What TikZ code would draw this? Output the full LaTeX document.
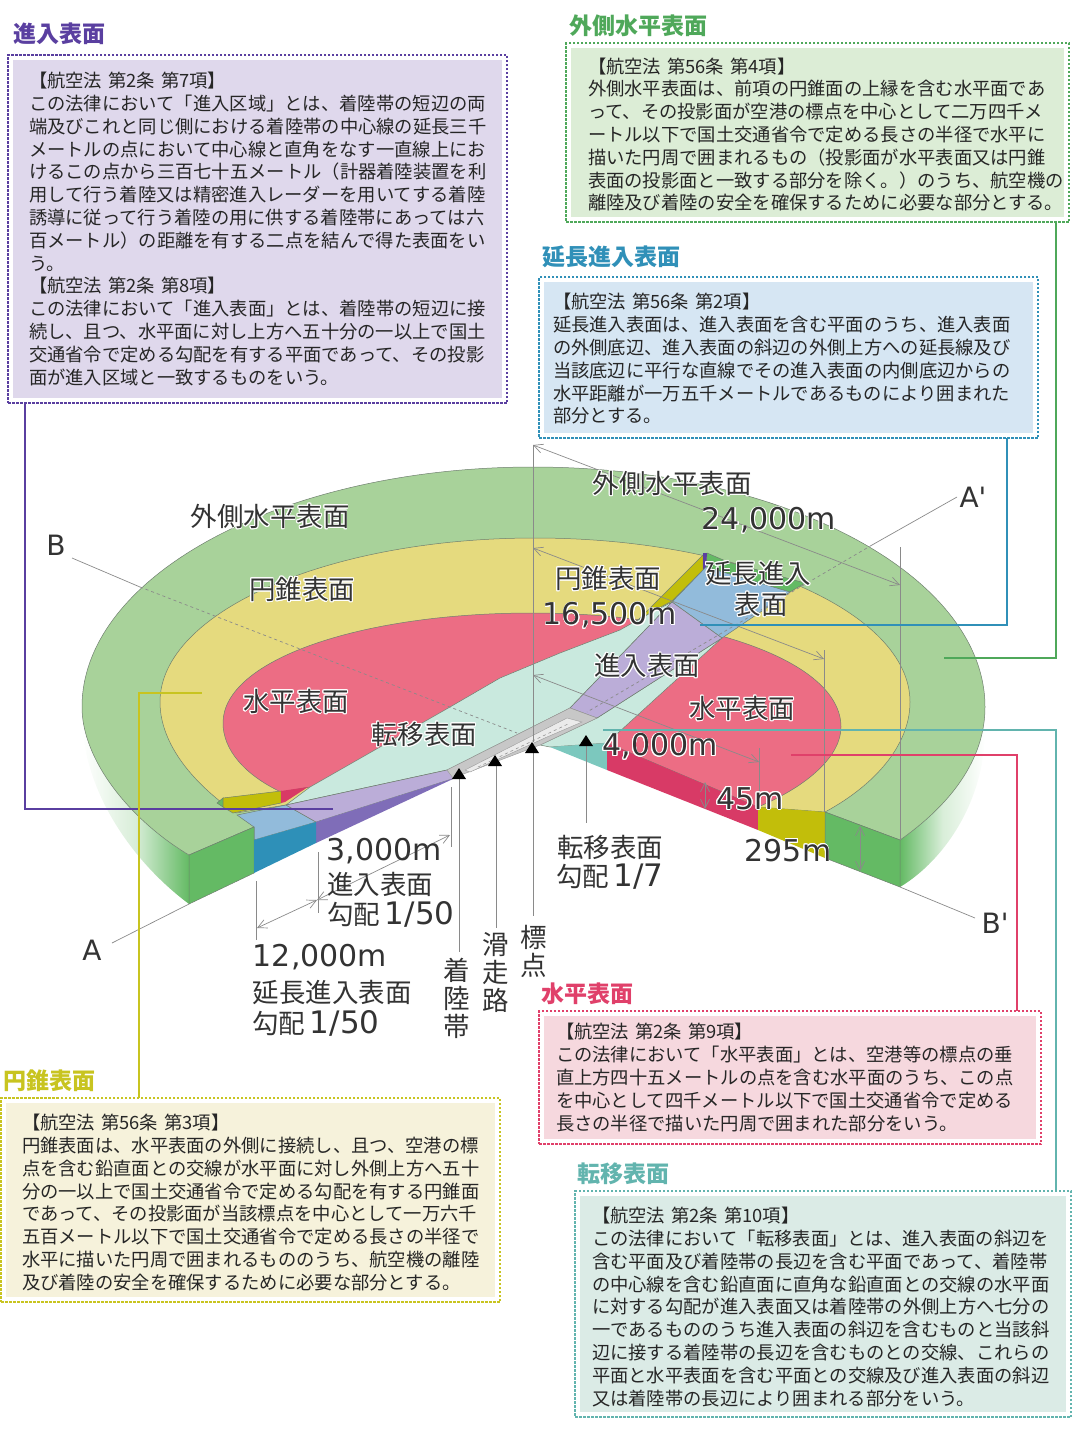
\documentclass[tikz,border=0pt]{standalone}
\usepackage{fontspec}
\usepackage{contour}
\setmainfont{Noto Sans CJK JP}
\newfontfamily\numfont{DejaVu Sans}
\usetikzlibrary{arrows.meta}
\contourlength{0.9pt}
\newcommand{\halo}[1]{\contour{white}{#1}}
\newcommand{\topgap}[1]{\rule{0pt}{#1pt}}

\definecolor{outerGreen}{HTML}{A8D29A}
\definecolor{sideGreen}{HTML}{64BA64}
\definecolor{coneYellow}{HTML}{E5DA7E}
\definecolor{sideOlive}{HTML}{C2BE0A}
\definecolor{flatRed}{HTML}{EC6D84}
\definecolor{sideRed}{HTML}{D83A66}
\definecolor{transTeal}{HTML}{C9E9DE}
\definecolor{sideTeal}{HTML}{7CC8BE}
\definecolor{appPurple}{HTML}{BBADD8}
\definecolor{sidePurple}{HTML}{7F6DB8}
\definecolor{extBlue}{HTML}{92BBDB}
\definecolor{sideBlue}{HTML}{2E90B8}
\definecolor{edgeGray}{HTML}{6F7F6F}
\definecolor{dimGray}{HTML}{8A8A8A}
\definecolor{labGray}{HTML}{333333}
\definecolor{apLine}{HTML}{5A3FA0}
\definecolor{apFill}{HTML}{DFD8EC}
\definecolor{gnLine}{HTML}{4FA85A}
\definecolor{gnFill}{HTML}{DCEDD6}
\definecolor{exLine}{HTML}{3090B8}
\definecolor{exFill}{HTML}{D6E6F3}
\definecolor{conLine}{HTML}{C8C420}
\definecolor{conFill}{HTML}{F6F2DB}
\definecolor{hzLine}{HTML}{E0406A}
\definecolor{hzFill}{HTML}{F6D8DE}
\definecolor{trLine}{HTML}{62B4AE}
\definecolor{trFill}{HTML}{DBEBE6}

\tikzset{
  lawbox/.style 2 args={draw=#1, line width=1.4pt, dash pattern=on 2.5pt off 1.5pt, fill=white,
    anchor=north west, outer sep=0pt, inner ysep=0pt, align=left, text=black!85,
    font=\fontsize{18.3}{22.8}\selectfont,
    path picture={\fill[#2] ([shift={(5pt,5pt)}]path picture bounding box.south west)
      rectangle ([shift={(-5pt,-5pt)}]path picture bounding box.north east);}},
  title/.style={font=\fontsize{23}{26}\selectfont\bfseries, anchor=center, inner sep=0pt},
  lab/.style={font=\fontsize{26.5}{28}\selectfont, text=labGray, inner sep=0pt},
  num/.style={font=\fontsize{30}{30}\selectfont\numfont, text=labGray, inner sep=0pt},
  surf/.style={draw=edgeGray, line width=0.5pt},
  leader/.style={line width=1.3pt},
  dim/.style={draw=dimGray, line width=0.7pt},
  dimarrow/.style={dim, {Straight Barb[length=9pt,width=9pt]}-{Straight Barb[length=9pt,width=9pt]}},
}

\begin{document}
\begin{tikzpicture}[x=1pt,y=-1pt]
\useasboundingbox (0,0) rectangle (1074,1443);

% side faces
\shade[left color=white, right color=sideGreen, middle color=sideGreen!25] (82,707) .. controls (82,760) and (130,820) .. (189,855)
  -- (189,904) .. controls (130,860) and (84,790) .. (82,720) -- cycle;
\shade[left color=sideGreen, right color=white, middle color=sideGreen!25] (985,707) .. controls (985,760) and (950,805) .. (900,840)
  -- (900,887) .. controls (945,860) and (985,800) .. (985,730) -- cycle;

% surfaces
\path[surf, fill=outerGreen] (189,855) .. controls (130,820) and (82,760) .. (82,707)
  .. controls (82,575) and (284,467) .. (533,467)
  .. controls (782,467) and (985,575) .. (985,707)
  .. controls (985,760) and (950,805) .. (900,840)
  -- (825,812) -- (758,807) -- (607,743) -- (570,720) -- (443,770) -- (286,805) -- (254,827) -- cycle;
\path[surf, fill=coneYellow] (236,813) .. controls (195,785) and (160,745) .. (160,702)
  .. controls (160,612) and (328,538) .. (535,538)
  .. controls (742,538) and (910,612) .. (910,702)
  .. controls (910,745) and (875,785) .. (825,812)
  -- (758,807) -- (597,718) -- (286,805) -- cycle;
\path[surf, fill=flatRed] (281,792) .. controls (245,775) and (223,750) .. (223,723)
  .. controls (223,660) and (360,613) .. (532,613)
  .. controls (700,613) and (841,660) .. (841,727)
  .. controls (841,755) and (810,785) .. (758,807)
  -- (607,743) -- (597,718) -- (310,787) -- cycle;

% teal wedges
\path[surf, fill=transTeal] (310,787) -- (450,707) -- (500,678) -- (560,653) -- (620,630) -- (643,617)
  -- (672,602) -- (570,708) -- (447,770) -- (286,805) -- cycle;
\path[surf, fill=transTeal] (597,718) -- (722,638) -- (607,743) -- (550,747) -- (540,745) -- cycle;

% far side
\path[surf, fill=sideGreen] (707,553) -- (728,562) -- (805,583) -- (790,592) -- (706,567) -- cycle;
\path[surf, fill=sideOlive] (703,555) -- (703,570) -- (672,601) -- (655,610) -- (638,620) -- cycle;
\fill[apLine] (703,553) -- (707,553) -- (706,567) -- (703,570) -- cycle;
\path[surf, fill=extBlue] (672,602) -- (706,567) -- (790,592) -- (722,638) -- cycle;
\path[surf, fill=appPurple] (570,708) -- (672,602) -- (722,638) -- (597,718) -- cycle;

% near side
\path[surf, fill=sideGreen] (217,803) -- (223,798) -- (223,807) -- cycle;
\path[surf, fill=sideOlive] (223,798) -- (281,791) -- (281,803) -- (233,813) -- (223,807) -- cycle;
\path[fill=sideRed] (281,791) -- (308,787) -- (285,802) -- (281,803) -- cycle;
\path[surf, fill=extBlue] (237,815) -- (286,805) -- (316,822) -- (254,840) -- (254,827) -- cycle;
\path[surf, fill=appPurple] (286,805) -- (447,770) -- (455,778) -- (316,822) -- cycle;
\path[fill=sidePurple] (316,822) -- (455,778) -- (316,843) -- cycle;

% front faces
\path[surf, fill=sideGreen] (189,855) -- (254,827) -- (254,873) -- (189,904) -- cycle;
\fill[sideBlue] (254,840) -- (316,822) -- (316,843) -- (254,873) -- cycle;
\fill[sideTeal] (550,747) -- (607,743) -- (607,770) -- cycle;
\fill[sideRed] (607,743) -- (758,807) -- (758,830) -- (607,770) -- cycle;
\fill[sideOlive] (758,807) -- (825,812) -- (825,858) -- (758,830) -- cycle;
\path[surf, fill=sideGreen] (825,812) -- (900,840) -- (900,887) -- (825,858) -- cycle;

% runway
\path[draw=black!40, line width=0.4pt, fill=black!22] (447,770) -- (570,708) -- (597,718) -- (540,745) -- (453,778) -- cycle;
\path[draw=black!40, line width=0.4pt, fill=black!8] (465,770) -- (567,718) -- (582,722) -- (547,737) -- (470,772) -- cycle;
\draw[black!45, line width=0.5pt, dashed] (478,767) -- (568,724);

% section lines
\draw[dim] (72,558) -- (140,587);
\draw[dim, dashed] (140,587) -- (517,733);
\draw[dim] (900,887) -- (975,918);
\draw[dim] (189,904) -- (112,943);
\draw[dim] (957,497) -- (872,545);
\draw[dim, dashed] (872,545) -- (587,712);

% dimension lines
\draw[dim] (533,445) -- (533,742);
\draw[dim] (533,753) -- (533,916);
\draw[dim] (900,547) -- (900,840);
\draw[dim] (824,650) -- (824,812);
\draw[dim] (759,748) -- (759,807);
\draw[dim] (459,779) -- (459,952);
\draw[dim] (496,765) -- (496,928);
\draw[dim] (586,746) -- (586,823);
\draw[dim] (451,787) -- (451,847);
\draw[dim] (318,852) -- (318,913);
\draw[dim] (256,881) -- (256,940);
\draw[dimarrow] (533,445) -- (900,585);
\draw[dimarrow] (533,548) -- (824,659);
\draw[dimarrow] (533,675) -- (759,762);
\draw[dimarrow] (450,835) -- (317,900);
\draw[dimarrow] (317,900) -- (257,928);
\draw[dimarrow] (705,782) -- (705,809);
\draw[dimarrow] (860,826) -- (860,871);

% reference marks
\foreach \x/\y in {459/768, 495/755, 532/742, 586/735}
  \fill[black] ({\x-7},{\y+11}) -- (\x,\y) -- ({\x+7},{\y+11}) -- cycle;

% law boxes
\node[lawbox={apLine}{apFill}, minimum width=499pt, minimum height=348pt, inner xsep=21pt, text width=457pt] (apBox) at (8,55) {
【航空法 第2条 第7項】\\
この法律において「進入区域」とは、着陸帯の短辺の両\\
端及びこれと同じ側における着陸帯の中心線の延長三千\\
メートルの点において中心線と直角をなす一直線上にお\\
けるこの点から三百七十五メートル（計器着陸装置を利\\
用して行う着陸又は精密進入レーダーを用いてする着陸\\
誘導に従って行う着陸の用に供する着陸帯にあっては六\\
百メートル）の距離を有する二点を結んで得た表面をい\\
う。\\
【航空法 第2条 第8項】\\
この法律において「進入表面」とは、着陸帯の短辺に接\\
続し、且つ、水平面に対し上方へ五十分の一以上で国土\\
交通省令で定める勾配を有する平面であって、その投影\\
面が進入区域と一致するものをいう。};
\node[lawbox={gnLine}{gnFill}, minimum width=503pt, minimum height=179pt, inner xsep=22pt, text width=459pt] (gnBox) at (566,43) {
\topgap{19.4}【航空法 第56条 第4項】\\
外側水平表面は、前項の円錐面の上縁を含む水平面であ\\
って、その投影面が空港の標点を中心として二万四千メ\\
ートル以下で国土交通省令で定める長さの半径で水平に\\
描いた円周で囲まれるもの（投影面が水平表面又は円錐\\
表面の投影面と一致する部分を除く。）のうち、航空機の\\
離陸及び着陸の安全を確保するために必要な部分とする。};
\node[lawbox={exLine}{exFill}, minimum width=499pt, minimum height=161pt, inner xsep=14pt, text width=471pt] (exBox) at (539,277) {
\topgap{18.4}【航空法 第56条 第2項】\\
延長進入表面は、進入表面を含む平面のうち、進入表面\\
の外側底辺、進入表面の斜辺の外側上方への延長線及び\\
当該底辺に平行な直線でその進入表面の内側底辺からの\\
水平距離が一万五千メートルであるものにより囲まれた\\
部分とする。};
\node[lawbox={conLine}{conFill}, minimum width=499pt, minimum height=204pt, inner xsep=21pt, text width=457pt] (conBox) at (1,1098) {
\topgap{20.4}【航空法 第56条 第3項】\\
円錐表面は、水平表面の外側に接続し、且つ、空港の標\\
点を含む鉛直面との交線が水平面に対し外側上方へ五十\\
分の一以上で国土交通省令で定める勾配を有する円錐面\\
であって、その投影面が当該標点を中心として一万六千\\
五百メートル以下で国土交通省令で定める長さの半径で\\
水平に描いた円周で囲まれるもののうち、航空機の離陸\\
及び着陸の安全を確保するために必要な部分とする。};
\node[lawbox={hzLine}{hzFill}, minimum width=502pt, minimum height=133pt, inner xsep=17pt, text width=468pt] (hzBox) at (539,1011) {
【航空法 第2条 第9項】\\
この法律において「水平表面」とは、空港等の標点の垂\\
直上方四十五メートルの点を含む水平面のうち、この点\\
を中心として四千メートル以下で国土交通省令で定める\\
長さの半径で描いた円周で囲まれた部分をいう。};
\node[lawbox={trLine}{trFill}, minimum width=496pt, minimum height=226pt, inner xsep=17pt, text width=462pt] (trBox) at (575,1191) {
\topgap{21.4}【航空法 第2条 第10項】\\
この法律において「転移表面」とは、進入表面の斜辺を\\
含む平面及び着陸帯の長辺を含む平面であって、着陸帯\\
の中心線を含む鉛直面に直角な鉛直面との交線の水平面\\
に対する勾配が進入表面又は着陸帯の外側上方へ七分の\\
一であるもののうち進入表面の斜辺を含むものと当該斜\\
辺に接する着陸帯の長辺を含むものとの交線、これらの\\
平面と水平表面を含む平面との交線及び進入表面の斜辺\\
又は着陸帯の長辺により囲まれる部分をいう。};

% box titles
\node[title, text=apLine] (apTitle) at (59,34) {進入表面};
\node[title, text=gnLine] (gnTitle) at (638,26) {外側水平表面};
\node[title, text=exLine] (exTitle) at (611,257) {延長進入表面};
\node[title, text=conLine] (conTitle) at (50,1081) {円錐表面};
\node[title, text=hzLine] (hzTitle) at (587,994) {水平表面};
\node[title, text=trLine] (trTitle) at (623,1174) {転移表面};

% leaders
\coordinate (apEnd) at (333,809);
\coordinate (gnEnd) at (944,658);
\coordinate (exEnd) at (700,625);
\coordinate (conEnd) at (202,693);
\coordinate (hzEnd) at (791,755);
\coordinate (trEnd) at (603,730);
\draw[leader, apLine] ([xshift=17pt]apBox.south west) |- (apEnd);
\draw[leader, gnLine] ([xshift=-13pt]gnBox.south east) |- (gnEnd);
\draw[leader, exLine] ([xshift=-31pt]exBox.south east) |- (exEnd);
\draw[leader, conLine] ([xshift=138pt]conBox.north west) |- (conEnd);
\draw[leader, hzLine] ([xshift=-24pt]hzBox.north east) |- (hzEnd);
\draw[leader, trLine] ([xshift=-15pt]trBox.north east) |- (trEnd);

% labels on the disc
\node[lab] (labOuterL) at (270,517) {\halo{外側水平表面}};
\node[lab] (labOuterR) at (672,484) {\halo{外側水平表面}};
\node[num] (lab24km) at (769,521) {\halo{24,000m}};
\node[lab] (labConeL) at (302,590) {\halo{円錐表面}};
\node[lab] (labConeR) at (608,579) {\halo{円錐表面}};
\node[num] (lab16km) at (610,616) {\halo{16,500m}};
\node[lab] (labExtA) at (758,574) {\halo{延長進入}};
\node[lab] (labExtB) at (761,605) {\halo{表面}};
\node[lab] (labAppR) at (647,666) {\halo{進入表面}};
\node[lab] (labFlatL) at (296,702) {\halo{水平表面}};
\node[lab] (labFlatR) at (742,709) {\halo{水平表面}};
\node[lab] (labTrans) at (424,735) {\halo{転移表面}};
\node[num] (lab4km) at (660,747) {\halo{4,000m}};
\node[num] (lab45m) at (750,799) {\halo{45m}};
\node[num] (lab295m) at (788,851) {\halo{295m}};

% labels under the disc
\node[lab] (labTransB) at (610,847) {転移表面};
\node[lab] (labSlopeT) at (610,877) {勾配\,{\numfont\fontsize{31}{30}\selectfont 1/7}};
\node[num] (lab3km) at (384,851) {3,000m};
\node[lab] (labAppB) at (380,884) {進入表面};
\node[lab] (labSlopeA) at (391,914) {勾配\,{\numfont\fontsize{31}{30}\selectfont 1/50}};
\node[num] (lab12km) at (320,957) {12,000m};
\node[lab] (labExtB2) at (332,992) {延長進入表面};
\node[lab] (labSlopeE) at (316,1023) {勾配\,{\numfont\fontsize{31}{30}\selectfont 1/50}};
\node[lab, align=center] (labStrip) at (457,998) {着\\陸\\帯};
\node[lab, align=center] (labRunway) at (496,973) {滑\\走\\路};
\node[lab, align=center] (labPoint) at (534,951) {標\\点};

% section letters
\node[num, font=\fontsize{28}{30}\selectfont\numfont] (labA) at (92,950) {A};
\node[num, font=\fontsize{28}{30}\selectfont\numfont] (labAp) at (973,497) {A'};
\node[num, font=\fontsize{28}{30}\selectfont\numfont] (labB) at (56,545) {B};
\node[num, font=\fontsize{28}{30}\selectfont\numfont] (labBp) at (995,923) {B'};
\end{tikzpicture}
\end{document}
